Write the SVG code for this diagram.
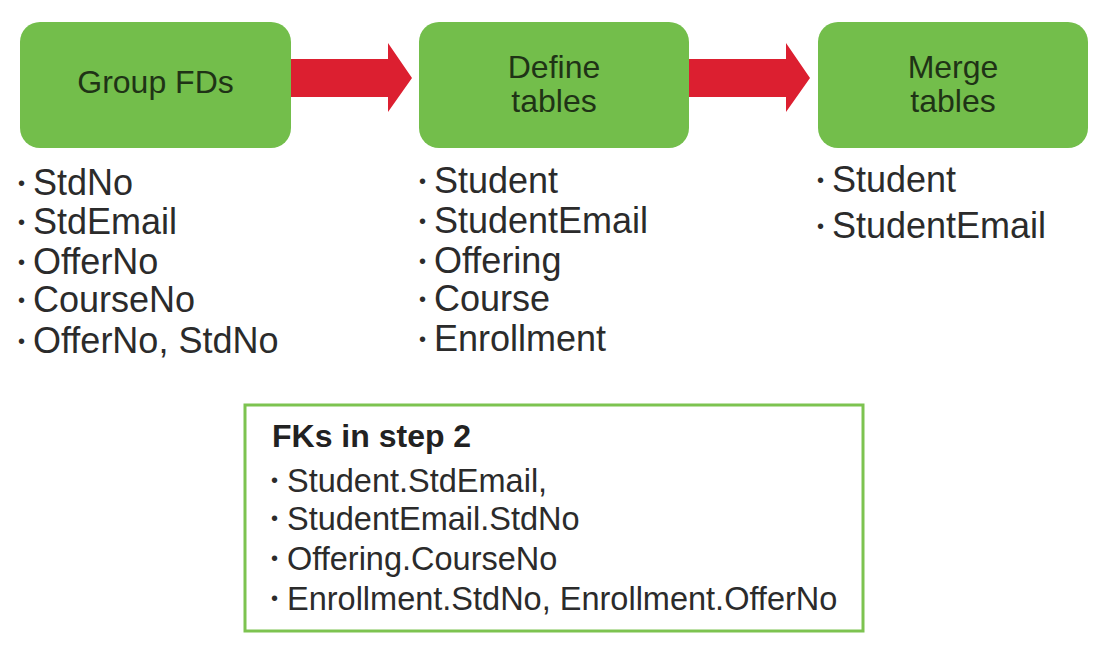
<svg xmlns="http://www.w3.org/2000/svg" width="1112" height="662" viewBox="0 0 1112 662">
  <style>
    .box { fill: #73be4b; }
    .arrow { fill: #dc1f30; }
    .btxt { font-family: "Liberation Sans", Arial, sans-serif; font-size: 32px; fill: #1f3316; text-anchor: middle; }
    .item { font-family: "Liberation Sans", Arial, sans-serif; font-size: 36px; fill: #2b2b2b; }
    .fk { font-family: "Liberation Sans", Arial, sans-serif; font-size: 32.5px; fill: #2b2b2b; }
    .fkt { font-family: "Liberation Sans", Arial, sans-serif; font-size: 32px; font-weight: bold; fill: #222; }
    .bul { font-family: "Liberation Sans", Arial, sans-serif; font-size: 20px; fill: #2b2b2b; }
  </style>
  <rect width="1112" height="662" fill="#ffffff"/>

  <g id="connectors">
    <polygon class="arrow" points="290,59 388,59 388,43 412,78 388,112 388,97 290,97"/>
    <polygon class="arrow" points="688,59 786,59 786,43 810,78 786,112 786,97 688,97"/>
  </g>

  <g id="node-group-fds">
    <rect class="box" x="20" y="22" width="271" height="126" rx="20"/>
    <text class="btxt" x="155.5" y="93">Group FDs</text>
  </g>

  <g id="node-define-tables">
    <rect class="box" x="419" y="22" width="270" height="126" rx="20"/>
    <text class="btxt" x="554" y="78">Define</text>
    <text class="btxt" x="554" y="112">tables</text>
  </g>

  <g id="node-merge-tables">
    <rect class="box" x="818" y="22" width="270" height="126" rx="20"/>
    <text class="btxt" x="953" y="78">Merge</text>
    <text class="btxt" x="953" y="112">tables</text>
  </g>

  <g id="list-group-fds">
    <text class="bul" x="18" y="190">•</text><text class="item" x="33" y="195">StdNo</text>
    <text class="bul" x="18" y="229">•</text><text class="item" x="33" y="234">StdEmail</text>
    <text class="bul" x="18" y="269">•</text><text class="item" x="33" y="274">OfferNo</text>
    <text class="bul" x="18" y="307">•</text><text class="item" x="33" y="312">CourseNo</text>
    <text class="bul" x="18" y="348">•</text><text class="item" x="33" y="353">OfferNo, StdNo</text>
  </g>

  <g id="list-define-tables">
    <text class="bul" x="419" y="188">•</text><text class="item" x="434" y="193">Student</text>
    <text class="bul" x="419" y="228">•</text><text class="item" x="434" y="233">StudentEmail</text>
    <text class="bul" x="419" y="268">•</text><text class="item" x="434" y="273">Offering</text>
    <text class="bul" x="419" y="306">•</text><text class="item" x="434" y="311">Course</text>
    <text class="bul" x="419" y="346">•</text><text class="item" x="434" y="351">Enrollment</text>
  </g>

  <g id="list-merge-tables">
    <text class="bul" x="817" y="187">•</text><text class="item" x="832" y="192">Student</text>
    <text class="bul" x="817" y="233">•</text><text class="item" x="832" y="238">StudentEmail</text>
  </g>

  <g id="fk-box">
    <rect x="245" y="405" width="618" height="226" fill="#ffffff" stroke="#7dc350" stroke-width="3"/>
    <text class="fkt" x="272" y="447">FKs in step 2</text>
    <text class="bul" x="271" y="487">•</text><text class="fk" x="287" y="492">Student.StdEmail,</text>
    <text class="bul" x="271" y="525">•</text><text class="fk" x="287" y="530">StudentEmail.StdNo</text>
    <text class="bul" x="271" y="565">•</text><text class="fk" x="287" y="570">Offering.CourseNo</text>
    <text class="bul" x="271" y="605">•</text><text class="fk" x="287" y="610">Enrollment.StdNo, Enrollment.OfferNo</text>
  </g>
</svg>
